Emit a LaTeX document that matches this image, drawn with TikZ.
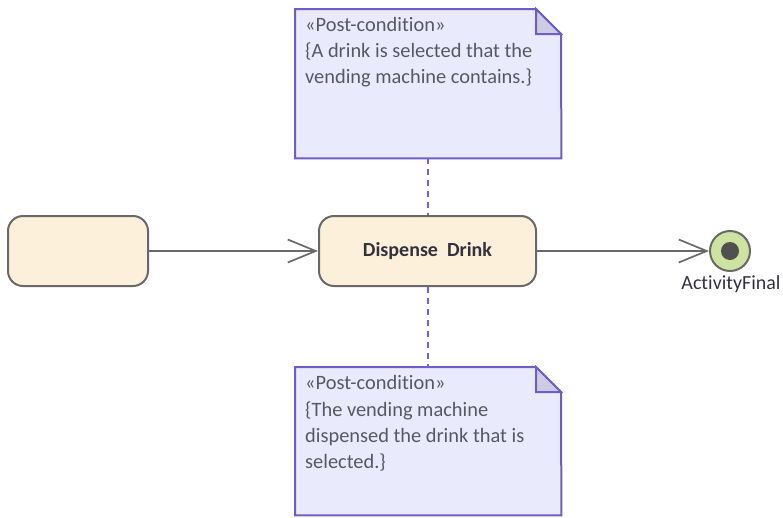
\documentclass[tikz,border=0pt]{standalone}
\usepackage{fontspec}
\setmainfont{Carlito}[Ligatures=NoCommon]
\usetikzlibrary{arrows.meta}

\definecolor{notefill}{RGB}{234,234,253}
\definecolor{noteline}{RGB}{112,92,200}
\definecolor{linkline}{RGB}{110,96,232}
\definecolor{foldfill}{RGB}{204,204,226}
\definecolor{actfill}{RGB}{253,240,218}
\definecolor{actline}{RGB}{105,105,105}
\definecolor{finalfill}{RGB}{204,228,160}
\definecolor{notetext}{RGB}{88,88,96}

\tikzset{
  action/.style={draw=actline, fill=actfill, line width=2pt, rounded corners=15pt,
    minimum width=140pt, minimum height=70pt, inner sep=0pt},
  flow/.style={draw=actline, line width=1.7pt, -{Straight Barb[length=28pt, width=23pt, line width=1.7pt]}},
  notelink/.style={draw=linkline, line width=2pt, dash pattern=on 6pt off 5pt},
  notetxt/.style={anchor=north west, align=left, inner sep=0pt, text=notetext,
    font=\fontsize{20.4}{26.3}\selectfont},
}

\begin{document}
\begin{tikzpicture}[x=1pt, y=-1pt]
  \useasboundingbox (0,0) rectangle (783,517);

  % -- Actions --
  \node[action] (prev) at (78,251) {};
  \node[action, minimum width=217pt, font=\fontsize{20}{24}\selectfont\bfseries,
    text={rgb,255:red,50;green,50;blue,62}] (dispense) at (427.5,251) {Dispense\ \ Drink};

  % -- Activity final --
  \node[circle, draw=actline, fill=finalfill, line width=2pt, minimum size=40pt, inner sep=0pt] (final) at (730,251) {};
  \fill[fill={rgb,255:red,80;green,80;blue,82}] (final.center) circle (9);
  \node[font=\fontsize{20}{24}\selectfont, text={rgb,255:red,50;green,50;blue,62}, anchor=north] (finallbl) at (731,272) {ActivityFinal};

  % -- Flows --
  \draw[flow] (prev) -- (dispense);
  \draw[flow] (dispense) -- (final);

  % -- Post-condition notes --
  \node[minimum width=266pt, minimum height=149pt, anchor=north west, inner sep=0pt] (postA) at (295,9) {};
  \draw[draw=noteline, fill=notefill, line width=2pt, line join=miter]
    (postA.north west) -- ++(241,0) -- ++(25,25) -- (postA.south east) -- (postA.south west) -- cycle;
  \draw[draw=noteline, fill=foldfill, line width=2pt]
    (postA.north west) ++(241,0) -- ++(0,25) -- ++(25,0) -- cycle;
  \node[notetxt] (postAtxt) at (305,17) {«Post-condition»\\\{A drink is selected that the\\vending machine contains.\}};

  \node[minimum width=266pt, minimum height=148pt, anchor=north west, inner sep=0pt] (postB) at (295,367) {};
  \draw[draw=noteline, fill=notefill, line width=2pt, line join=miter]
    (postB.north west) -- ++(241,0) -- ++(25,25) -- (postB.south east) -- (postB.south west) -- cycle;
  \draw[draw=noteline, fill=foldfill, line width=2pt]
    (postB.north west) ++(241,0) -- ++(0,25) -- ++(25,0) -- cycle;
  \node[notetxt] (postBtxt) at (305,375.5) {«Post-condition»\\\{The vending machine\\dispensed the drink that is\\selected.\}};

  % -- Note links --
  \draw[notelink] (postA.south -| dispense.north) -- (dispense.north);
  \draw[notelink] (dispense.south) -- (postB.north -| dispense.south);

\end{tikzpicture}
\end{document}
